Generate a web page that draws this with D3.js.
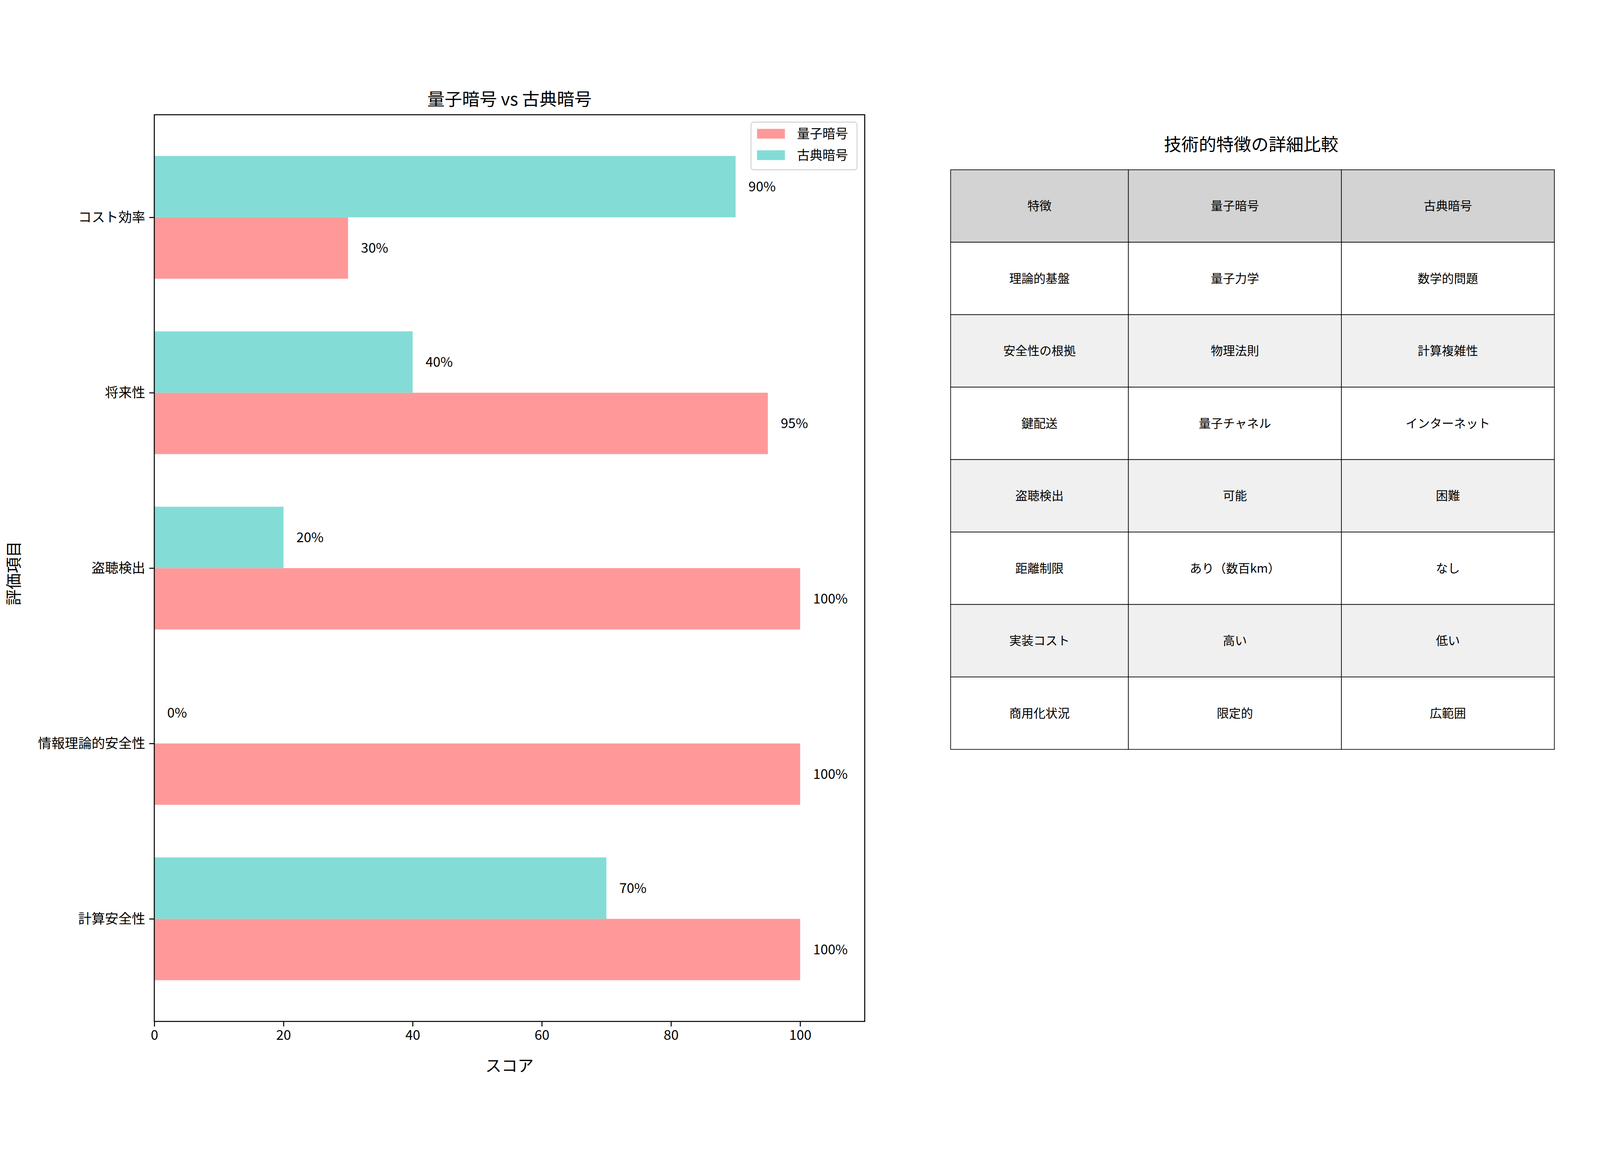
<!DOCTYPE html>
<html><head><meta charset="utf-8">
<script src="https://cdn.jsdelivr.net/npm/d3@7"></script>
<style>html,body{margin:0;padding:0;width:100%;height:100%;overflow:hidden;background:#fff}svg{display:block;width:100vw;height:100vh}text{font-family:"Noto Sans CJK JP","DejaVu Sans",sans-serif}</style>
</head><body><svg id="c" viewBox="0 0 4770 2967" preserveAspectRatio="xMidYMid meet"></svg>
<script>
const categories=["計算安全性","情報理論的安全性","盗聴検出","将来性","コスト効率"];
const quantum=[100,100,100,95,30];
const classical=[70,0,20,40,90];
const xTicks=[0,20,40,60,80,100];
const tableHeader=["特徴","量子暗号","古典暗号"];
const tableRows=[["理論的基盤","量子力学","数学的問題"],["安全性の根拠","物理法則","計算複雑性"],["鍵配送","量子チャネル","インターネット"],["盗聴検出","可能","困難"],["距離制限","あり（数百km）","なし"],["実装コスト","高い","低い"],["商用化状況","限定的","広範囲"]];
const svg=d3.select("#c");
const L=460,R=2578,T=98,B=2801;
const x=d3.scaleLinear().domain([0,110]).range([L,R]);
const y=d3.scaleLinear().domain([-0.585,4.585]).range([B,T]);
const h=0.35;
const g=svg.append("g");
categories.forEach((c,i)=>{
  g.append("rect").attr("x",x(0)).attr("y",y(i)).attr("width",x(quantum[i])-x(0)).attr("height",y(i-h)-y(i)).attr("fill","#ff9999");
  g.append("rect").attr("x",x(0)).attr("y",y(i+h)).attr("width",x(classical[i])-x(0)).attr("height",y(i)-y(i+h)).attr("fill","#84dcd6");
  g.append("text").attr("x",x(quantum[i]+2)).attr("y",y(i-h/2)).attr("dy","0.35em").attr("font-size",40).text(quantum[i]+"%");
  g.append("text").attr("x",x(classical[i]+2)).attr("y",y(i+h/2)).attr("dy","0.35em").attr("font-size",40).text(classical[i]+"%");
});
svg.append("rect").attr("x",L).attr("y",T).attr("width",R-L).attr("height",B-T).attr("fill","none").attr("stroke","#000").attr("stroke-width",3);
const xa=svg.append("g").attr("transform",`translate(0,${B})`).call(d3.axisBottom(x).tickValues(xTicks).tickSize(15).tickPadding(12));
const ya=svg.append("g").attr("transform",`translate(${L},0)`).call(d3.axisLeft(y).tickValues(d3.range(categories.length)).tickFormat(i=>categories[i]).tickSize(15).tickPadding(12));
[xa,ya].forEach(a=>{a.select(".domain").remove();a.selectAll("line").attr("stroke-width",3);a.selectAll("text").attr("font-size",40).attr("font-family","Noto Sans CJK JP");});
svg.append("text").attr("x",(L+R)/2).attr("y",70).attr("text-anchor","middle").attr("font-size",52).text("量子暗号 vs 古典暗号");
svg.append("text").attr("x",(L+R)/2).attr("y",2950).attr("text-anchor","middle").attr("font-size",48).text("スコア");
svg.append("text").attr("transform","translate(58,1465) rotate(-90)").attr("text-anchor","middle").attr("font-size",48).text("評価項目");
const lg=svg.append("g");
lg.append("rect").attr("x",2239).attr("y",120).attr("width",316).attr("height",142).attr("rx",8).attr("fill","#fff").attr("stroke","#d5d5d5").attr("stroke-width",3);
[["量子暗号","#ff9999"],["古典暗号","#84dcd6"]].forEach((d,i)=>{
  lg.append("rect").attr("x",2257).attr("y",140+i*64).attr("width",83).attr("height",29).attr("fill",d[1]);
  lg.append("text").attr("x",2376).attr("y",155+i*64).attr("dy","0.35em").attr("font-size",38).text(d[0]);
});
const tx=[2834,3364,3999,4634],tT=262,rh=216;
svg.append("text").attr("x",3730).attr("y",187).attr("dy","0.35em").attr("text-anchor","middle").attr("font-size",52).text("技術的特徴の詳細比較");
[tableHeader,...tableRows].forEach((row,r)=>{
  const fill=r===0?"#d3d3d3":(r%2===0?"#f0f0f0":"#ffffff");
  row.forEach((cell,c)=>{
    svg.append("rect").attr("x",tx[c]).attr("y",tT+r*rh).attr("width",tx[c+1]-tx[c]).attr("height",rh).attr("fill",fill).attr("stroke","#000").attr("stroke-width",2);
    svg.append("text").attr("x",(tx[c]+tx[c+1])/2).attr("y",tT+r*rh+rh/2).attr("dy","0.35em").attr("text-anchor","middle").attr("font-size",36).text(cell);
  });
});
</script></body></html>
